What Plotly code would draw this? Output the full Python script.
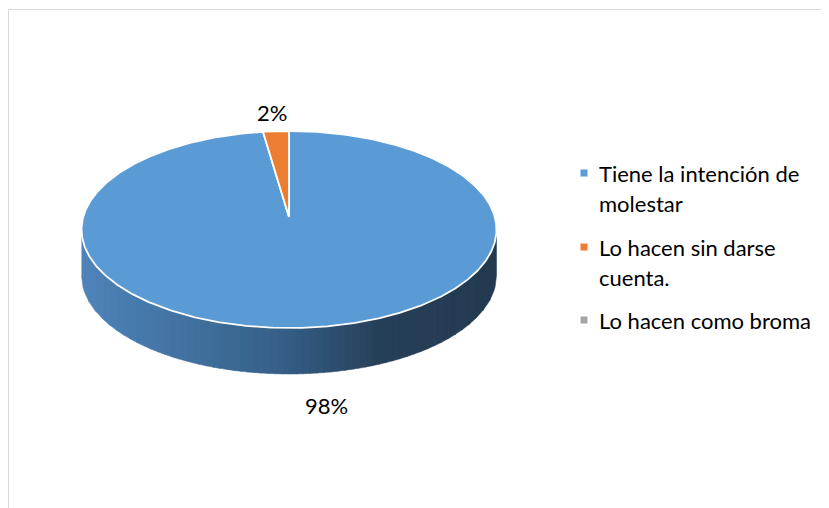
import numpy as np
import plotly.graph_objects as go

# ---- data ----
categories = ["Tiene la intención de molestar", "Lo hacen sin darse cuenta.", "Lo hacen como broma"]
legend_lines = [["Tiene la intención de", "molestar"], ["Lo hacen sin darse", "cuenta."], ["Lo hacen como broma"]]
values = [98, 2, 0]
colors = ["#5B9BD5", "#ED7D31", "#A5A5A5"]

# ---- geometry (pixels of the screenshot) ----
W, H = 829, 508
OX, OY = 8, 8  # page body margin
cx, cy = 289, 229.5
rx, ry = 207.5, 98.5
apex = (289, 217)
depth = 46
FONT = "Lato"
FS = 22

def top_pt(theta_deg):
    t = np.radians(theta_deg)
    return cx + rx * np.sin(t), cy - ry * np.cos(t)

fig = go.Figure()

# side wall (front half) with horizontal gradient
stops = [(0.0, (78, 131, 186)), (0.3, (62, 110, 155)), (0.5, (52, 93, 132)),
         (0.72, (38, 63, 88)), (1.0, (35, 58, 80))]

def grad(f):
    for (f0, c0), (f1, c1) in zip(stops[:-1], stops[1:]):
        if f0 <= f <= f1:
            u = (f - f0) / (f1 - f0) if f1 > f0 else 0
            c = [round(a + (b - a) * u) for a, b in zip(c0, c1)]
            return "rgb(%d,%d,%d)" % tuple(c)
    return "rgb(35,58,80)"

N = 60
xs_edges = np.linspace(cx - rx, cx + rx, N + 1)
for i in range(N):
    xa, xb = xs_edges[i], min(xs_edges[i + 1] + 0.6, cx + rx)
    xx = np.linspace(xa, xb, 6)
    yy_top = cy + ry * np.sqrt(np.clip(1 - ((xx - cx) / rx) ** 2, 0, 1))
    px = list(xx) + list(xx[::-1])
    py = list(yy_top) + list((yy_top + depth)[::-1])
    f = (0.5 * (xa + xb) - (cx - rx)) / (2 * rx)
    col = grad(f)
    fig.add_trace(go.Scatter(x=px, y=py, fill="toself", fillcolor=col, mode="lines",
                             line=dict(width=0.5, color=col), hoverinfo="skip", showlegend=False))

# top face slices (clockwise from 12 o'clock)
total = sum(values)
start = 0.0
for v, c in zip(values, colors):
    span = 360.0 * v / total
    if span > 0:
        th = np.linspace(start, start + span, max(int(span * 2), 4))
        pts = [top_pt(t) for t in th]
        px = [apex[0]] + [p[0] for p in pts] + [apex[0]]
        py = [apex[1]] + [p[1] for p in pts] + [apex[1]]
        fig.add_trace(go.Scatter(x=px, y=py, fill="toself", fillcolor=c, mode="lines",
                                 line=dict(width=1.8, color="white"), hoverinfo="skip",
                                 showlegend=False))
    start += span

# percent labels
label_pos = [(326, 405), (272, 112), None]
for v, pos in zip(values, label_pos):
    if v > 0 and pos:
        fig.add_annotation(x=pos[0], y=pos[1], text=f"{v}%", showarrow=False,
                           font=dict(family=FONT, size=FS, color="#000000"),
                           xanchor="center", yanchor="middle")

# legend
leg_y = [173, 247, 320]
for lines, c, y0 in zip(legend_lines, colors, leg_y):
    fig.add_trace(go.Scatter(x=[584], y=[y0], mode="markers",
                             marker=dict(symbol="square", size=7, color=c),
                             hoverinfo="skip", showlegend=False))
    for k, ln in enumerate(lines):
        fig.add_annotation(x=597, y=y0 + 30 * k, text=ln, showarrow=False,
                           font=dict(family=FONT, size=FS, color="#000000"),
                           xanchor="left", yanchor="middle")

# chart border
fig.add_shape(type="rect", x0=8.5, y0=9.5, x1=W + 20, y1=H + 20,
              line=dict(color="#D9D9D9", width=1), fillcolor="rgba(0,0,0,0)", layer="below")

fig.update_layout(
    width=W, height=H,
    margin=dict(l=0, r=0, t=0, b=0),
    paper_bgcolor="white", plot_bgcolor="white",
    xaxis=dict(range=[OX, W + OX], visible=False, fixedrange=True),
    yaxis=dict(range=[H + OY, OY], visible=False, fixedrange=True),
    showlegend=False,
)

fig.write_html("out.html")
